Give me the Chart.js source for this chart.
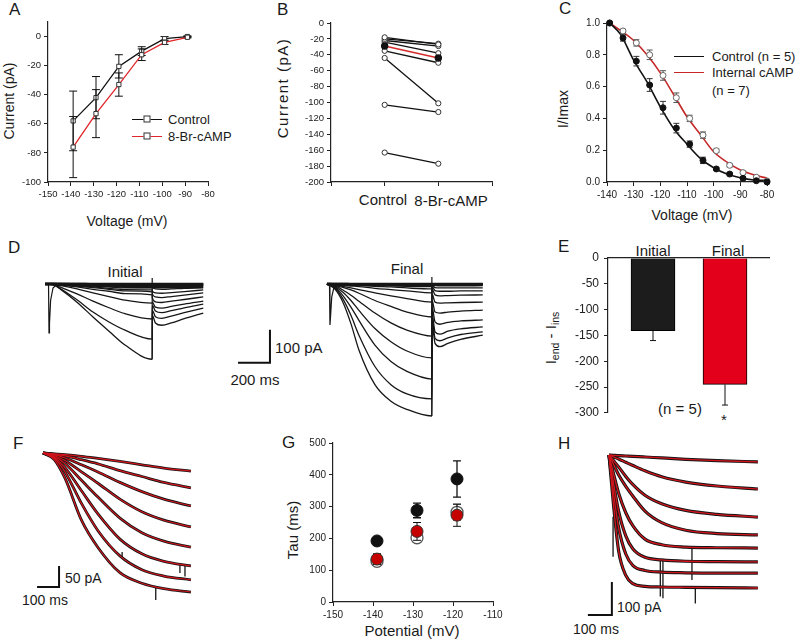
<!doctype html>
<html lang="en">
<head>
<meta charset="utf-8">
<title>HCN current figure</title>
<script src="https://cdn.jsdelivr.net/npm/chart.js@4.4.1/dist/chart.umd.min.js"></script>
<style>
    html, body { margin: 0; padding: 0; background: #fff; }
    #fig { position: relative; width: 798px; height: 639px; overflow: hidden;
           font-family: "Liberation Sans", Arial, sans-serif; color: #1a1a1a; }
    #fig canvas { position: absolute; }
    .t { position: absolute; white-space: nowrap; line-height: 1; }
    .c { transform: translate(-50%, -50%); }
    .l { transform: translate(0, -50%); }
    .r { transform: translate(-50%, -50%) rotate(-90deg); }
    .panel { font-size: 17px; }
    .ttl { font-size: 14px; }
    .big { font-size: 15px; }
    .leg { font-size: 13px; }
    .legline { position: absolute; height: 0; width: 30px; }
    .legmark { position: absolute; width: 5px; height: 5px; border: 1px solid #333; background: #fff;
               transform: translate(-50%, -50%); }
    sub { font-size: 70%; vertical-align: -3px; }
</style>
</head>
<body>
<div id="fig">
    <div class="t panel" style="left:9px;top:1px">A</div>
    <div class="t panel" style="left:277px;top:1px">B</div>
    <div class="t panel" style="left:559px;top:0px">C</div>
    <div class="t panel" style="left:8px;top:239px">D</div>
    <div class="t panel" style="left:558px;top:238px">E</div>
    <div class="t panel" style="left:13px;top:435px">F</div>
    <div class="t panel" style="left:282px;top:434px">G</div>
    <div class="t panel" style="left:558px;top:435px">H</div>

    <!-- axis titles -->
    <div class="t ttl r" style="left:9px;top:101px">Current (pA)</div>
    <div class="t ttl c" style="left:127px;top:221px">Voltage (mV)</div>
    <div class="t big r" style="left:282px;top:88px;letter-spacing:1.5px">Current (pA)</div>
    <div class="t big c" style="left:383px;top:199px">Control</div>
    <div class="t big c" style="left:451px;top:200px">8-Br-cAMP</div>
    <div class="t ttl r" style="left:563px;top:109px">I/Imax</div>
    <div class="t ttl c" style="left:692px;top:215px">Voltage (mV)</div>
    <div class="t big r" style="left:552px;top:338px">I<sub>end</sub> - I<sub>ins</sub></div>
    <div class="t big r" style="left:292px;top:530px">Tau (ms)</div>
    <div class="t big c" style="left:412px;top:630px">Potential (mV)</div>

    <!-- legend A -->
    <div class="legline" style="left:132px;top:119px;border-top:1.3px solid #111"></div>
    <div class="legmark" style="left:147px;top:119px"></div>
    <div class="legline" style="left:132px;top:136px;border-top:1.3px solid #e0262b"></div>
    <div class="legmark" style="left:147px;top:136px"></div>
    <div class="t leg l" style="left:168px;top:119px">Control</div>
    <div class="t leg l" style="left:168px;top:136px">8-Br-cAMP</div>

    <!-- legend C -->
    <div class="legline" style="left:674px;top:56px;border-top:1.5px solid #111"></div>
    <div class="legline" style="left:674px;top:72px;border-top:1.5px solid #c62828"></div>
    <div class="t leg l" style="left:712px;top:56px">Control (n = 5)</div>
    <div class="t leg l" style="left:712px;top:72px">Internal cAMP</div>
    <div class="t leg l" style="left:712px;top:90px">(n = 7)</div>

    <!-- D labels -->
    <div class="t big c" style="left:125px;top:271px">Initial</div>
    <div class="t big c" style="left:407px;top:268px">Final</div>
    <div class="t big l" style="left:275px;top:347px">100 pA</div>
    <div class="t big c" style="left:255px;top:379px">200 ms</div>

    <!-- E labels -->
    <div class="t big c" style="left:653px;top:250px">Initial</div>
    <div class="t big c" style="left:728px;top:250px">Final</div>
    <div class="t big c" style="left:680px;top:408px">(n = 5)</div>
    <div class="t big c" style="left:724px;top:419px">*</div>

    <!-- F / H scale bar labels -->
    <div class="t ttl l" style="left:65px;top:578px">50 pA</div>
    <div class="t ttl l" style="left:22px;top:600px">100 ms</div>
    <div class="t ttl l" style="left:617px;top:607px">100 pA</div>
    <div class="t ttl l" style="left:573px;top:629px">100 ms</div>
</div>
<script>
    // ---- Panel A: I-V, control vs 8-Br-cAMP
    const aVoltage = [-139, -129, -119, -109, -99, -89];
    const aControl = [-58, -42, -20.5, -10, -1.5, 0];
    const aControlErr = [20.5, 14.5, 8, 3, 1.5, 0.5];
    const aCamp = [-76, -53, -33, -12.5, -4, -0.5];
    const aCampErr = [21, 16.5, 8, 4, 1.5, 0.5];

    // ---- Panel B: paired cells
    const bControl = [-18, -20, -22, -24, -35, -44, -103, -163];
    const bCamp = [-27, -26, -29, -38, -50, -101, -112, -177];
    const bMean = [-29, -44];

    // ---- Panel C: activation curves
    const cVoltage = [-139, -134, -129, -124, -119, -114, -109, -104, -99, -94, -89, -84, -80];
    const cControl = [1.0, 0.906, 0.76, 0.61, 0.467, 0.339, 0.238, 0.136, 0.082, 0.05, 0.023, 0.008, 0.0];
    const cControlErr = [0, 0.02, 0.03, 0.04, 0.04, 0.03, 0.02, 0.02, 0.01, 0.01, 0.01, 0, 0];
    const cCamp = [1.0, 0.95, 0.875, 0.80, 0.67, 0.53, 0.40, 0.295, 0.197, 0.105, 0.059, 0.03, 0.006];
    const cCampErr = [0, 0.01, 0.02, 0.03, 0.03, 0.03, 0.02, 0.02, 0.01, 0.01, 0.01, 0.005, 0];
    const cFitVoltage = [-139, -135, -130, -125, -120, -115, -110, -105, -100, -95, -90, -85, -80];
    const cFitControl = [1.0, 0.93, 0.766, 0.63, 0.473, 0.337, 0.238, 0.149, 0.09, 0.05, 0.027, 0.013, 0.01];
    const cFitCamp = [1.0, 0.954, 0.89, 0.80, 0.686, 0.55, 0.41, 0.30, 0.19, 0.125, 0.075, 0.045, 0.024];

    // ---- Panel E: Iend - Iins
    const eValues = [-141, -245];
    const eErr = [19, 40];

    // ---- Panel G: tau vs potential
    const gVoltage = [-139, -129, -119];
    const gBlack = [192, 288, 387];
    const gBlackErr = [6, 23, 57];
    const gRed = [135, 222, 273];
    const gRedErr = [17, 28, 35];
    const gOpen = [128, 202, 282];
    const gOpenErr = [12, 12, 25];

    // ---- Panel D: current traces (ms, pA)
    const dInitTime = [0, 50, 100, 200, 300, 400, 500, 670];
    const dInitial = [
        [0, -2, -17, -55, -100, -143, -185, -228],
        [0, -2, -15, -48, -85, -115, -140, -167],
        [0, -2, -10, -30, -52, -72, -90, -106],
        [0, -1, -5, -15, -27, -38, -49, -58],
        [0, -1, -3, -9, -16, -22, -29, -33],
        [0, -1, -2, -6, -11, -16, -21, -24],
        [0, -1, -2, -5, -9, -13, -17, -18],
        [0, 0, -1, -3, -6, -9, -12, -12],
        [0, 0, -1, -2, -4, -6, -8, -9],
        [0, 0, 0, -1, -2, -3, -4, -5],
        [0, 0, 0, 0, -1, -1, -2, -2],
        [0, 0, 0, 0, 0, 0, 0, 0]
    ];
    const dTailTime = [1, 20, 60, 120, 200, 319];
    const dInitialTail = [
        [-95, -118, -125, -118, -105, -88],
        [-80, -99, -104, -97, -87, -73],
        [-65, -82, -87, -81, -72, -61],
        [-55, -70, -73, -68, -61, -52],
        [-42, -54, -56, -52, -47, -39],
        [-30, -39, -41, -38, -34, -27],
        [-21, -27, -28, -26, -23, -18],
        [-12, -15, -16, -15, -13, -12],
        [-8, -10, -10, -10, -9, -8],
        [-3, -4, -4, -4, -4, -3],
        [-1, -2, -2, -2, -2, -1],
        [0, 0, 0, 0, 0, 0]
    ];
    const dFinTime = [0, 50, 100, 150, 200, 300, 400, 500, 656];
    const dFinal = [
        [0, -15, -55, -120, -200, -305, -355, -380, -400],
        [0, -12, -45, -95, -155, -250, -305, -333, -348],
        [0, -10, -35, -70, -110, -185, -235, -265, -288],
        [0, -8, -25, -50, -80, -135, -175, -203, -224],
        [0, -6, -18, -34, -52, -88, -118, -140, -158],
        [0, -4, -10, -18, -28, -50, -68, -85, -100],
        [0, -3, -7, -12, -17, -27, -36, -44, -55],
        [0, -2, -4, -6, -8, -13, -17, -21, -27],
        [0, -1, -2, -3, -4, -7, -9, -12, -15],
        [0, -1, -1, -2, -2, -3, -4, -5, -6],
        [0, 0, 0, -1, -1, -1, -2, -2, -2],
        [0, 0, 0, 0, 0, 0, 0, 0, 0]
    ];
    const dFinTailTime = [1, 20, 50, 100, 180, 318];
    const dFinalTail = [
        [-120, -180, -190, -180, -168, -155],
        [-105, -165, -172, -163, -153, -145],
        [-90, -145, -152, -143, -136, -130],
        [-70, -115, -122, -116, -112, -109],
        [-50, -85, -88, -85, -82, -79],
        [-30, -55, -58, -57, -56, -55],
        [-15, -33, -36, -35, -34, -33],
        [-8, -20, -22, -22, -21, -21],
        [-4, -11, -12, -12, -12, -12],
        [-2, -3, -4, -4, -4, -3],
        [-1, -1, -2, -2, -2, -1],
        [0, 0, 0, 0, 0, 0]
    ];
    // capacitive transients
    const dInitTransT = [22, 25, 28, 35, 50, 70];
    const dInitTransI = [0, -148, -120, -50, -12, -3];
    const dFinTransT = [16, 19, 23, 30, 43, 68];
    const dFinTransI = [0, -124, -95, -40, -12, -3];
    const dFinalStart = 1762;

    // ---- Panel F: fitted traces
    const fTime = [0, 50, 100, 175, 250, 350, 450, 550, 673];
    const fTraces = [
        [0, -2, -4, -8, -13, -20, -28, -36, -43],
        [0, -3, -7, -16, -26, -42, -56, -70, -83],
        [0, -4, -12, -28, -45, -70, -92, -110, -126],
        [0, -6, -18, -45, -72, -110, -140, -160, -176],
        [0, -8, -25, -65, -105, -155, -190, -210, -224],
        [0, -10, -35, -90, -145, -205, -240, -258, -269],
        [0, -12, -45, -120, -185, -245, -278, -293, -302],
        [0, -15, -60, -160, -225, -285, -310, -323, -331]
    ];
    const fSpikes = [[513, -318, -350], [623, -262, -286], [646, -266, -294], [360, -236, -250]];

    // ---- Panel H: fitted traces
    const hTime = [0, 20, 40, 70, 100, 150, 220, 320, 450, 621];
    const hTraces = [
        [0, -1, -2, -3, -4, -6, -9, -13, -17, -21],
        [0, -6, -12, -22, -32, -48, -66, -82, -94, -103],
        [0, -18, -36, -65, -90, -122, -148, -168, -180, -188],
        [0, -30, -60, -95, -125, -170, -205, -228, -238, -242],
        [0, -60, -115, -175, -215, -255, -272, -279, -281, -282],
        [0, -90, -170, -245, -285, -310, -318, -322, -323, -324],
        [0, -120, -220, -300, -335, -350, -355, -357, -358, -358],
        [0, -160, -290, -365, -390, -398, -400, -401, -402, -403]
    ];
    const hSpikes = [[17, -187, -308], [214, -318, -429], [225, -318, -434], [346, -278, -379], [360, -399, -450]];

    // scale bars: [time start, time end, current low, current high]
    const dBar = [1206, 1406, -239, -139];
    const fBar = [-27, 73, -319, -269];
    const hBar = [-88, 12, -485, -385];

    // ------------------------------------------------------------------
    Chart.defaults.font.family = '"Liberation Sans", Arial, sans-serif';
    Chart.defaults.color = '#222';

    const errorBars = {
        id: 'errorBars',
        beforeDatasetDraw(chart, args) {
            const ds = chart.data.datasets[args.index];
            if (!ds.errors) return;
            const ctx = chart.ctx;
            const yScale = chart.scales[args.meta.yAxisID];
            const cap = ds.capWidth || 3;
            ctx.save();
            ctx.strokeStyle = ds.errColor || '#111';
            ctx.lineWidth = ds.errWidth || 1;
            args.meta.data.forEach((el, i) => {
                const e = ds.errors[i];
                if (!e) return;
                const v = ds.data[i].y;
                const yTop = yScale.getPixelForValue(ds.errDown ? v : v + e);
                const yBot = yScale.getPixelForValue(v - e);
                ctx.beginPath();
                ctx.moveTo(el.x, yTop);
                ctx.lineTo(el.x, yBot);
                if (!ds.errDown) {
                    ctx.moveTo(el.x - cap, yTop);
                    ctx.lineTo(el.x + cap, yTop);
                }
                ctx.moveTo(el.x - cap, yBot);
                ctx.lineTo(el.x + cap, yBot);
                ctx.stroke();
            });
            ctx.restore();
        }
    };

    function addChart(left, top, w, h, config) {
        const cv = document.createElement('canvas');
        cv.width = w;
        cv.height = h;
        cv.style.left = left + 'px';
        cv.style.top = top + 'px';
        cv.style.width = w + 'px';
        cv.style.height = h + 'px';
        document.getElementById('fig').appendChild(cv);
        config.options = Object.assign({
            responsive: false, animation: false, devicePixelRatio: 1,
            events: []
        }, config.options);
        config.options.plugins = { legend: { display: false }, tooltip: { enabled: false } };
        config.plugins = [errorBars];
        return new Chart(cv, config);
    }

    function axis(min, max, step, fontSize, fit, extra) {
        return Object.assign({
            type: 'linear', min: min, max: max,
            grid: { drawOnChartArea: false, drawTicks: true, tickLength: 4, color: '#222' },
            border: { display: true, color: '#222', width: 1.2 },
            ticks: { stepSize: step, autoSkip: false, maxRotation: 0, padding: 3,
                     font: { size: fontSize }, color: '#222' },
            afterFit: fit
        }, extra || {});
    }

    const pts = (xs, ys) => xs.map((x, i) => ({ x: x, y: ys[i] }));

    function markers(data, opts) {
        return Object.assign({ data: data, showLine: false, clip: false, pointRadius: 3,
            pointBorderWidth: 1, borderWidth: 0 }, opts);
    }

    function line(data, color, width, smooth) {
        const ds = { data: data, borderColor: color, borderWidth: width, pointRadius: 0, fill: false, clip: false };
        if (smooth) ds.cubicInterpolationMode = 'monotone';
        return ds;
    }

    function barLines(b) {
        return line([{ x: b[0], y: b[2] }, { x: b[1], y: b[2] }, { x: b[1], y: b[3] }], '#111', 2, false);
    }

    // ---- A
    addChart(0, 0, 230, 215, {
        type: 'line',
        data: {
            datasets: [
                Object.assign(line(pts(aVoltage, aCamp), '#e0262b', 1.3), {
                    pointStyle: 'rect', pointRadius: 3, pointBackgroundColor: '#fff',
                    pointBorderColor: '#333', pointBorderWidth: 1, errors: aCampErr, capWidth: 4
                }),
                Object.assign(line(pts(aVoltage, aControl), '#111', 1.3), {
                    pointStyle: 'rect', pointRadius: 3, pointBackgroundColor: '#fff',
                    pointBorderColor: '#333', pointBorderWidth: 1, errors: aControlErr, capWidth: 4
                })
            ]
        },
        options: {
            layout: { autoPadding: false, padding: { top: 22, right: 22, left: 0, bottom: 0 } },
            scales: {
                x: axis(-150, -80, 10, 9.5, s => { s.height = 33; }, {}),
                y: axis(-100, 10, 20, 9.5, s => { s.width = 48; }, {
                    afterBuildTicks: s => { s.ticks = s.ticks.filter(t => t.value <= 0); }
                })
            }
        }
    });

    // ---- B
    const bDatasets = [Object.assign(line([{ x: 1, y: bMean[0] }, { x: 2, y: bMean[1] }], '#d42a2a', 1.4), {
        pointRadius: 3, pointBackgroundColor: '#111', pointBorderColor: '#111'
    })];
    bControl.forEach((v, i) => {
        bDatasets.push(Object.assign(line([{ x: 1, y: v }, { x: 2, y: bCamp[i] }], '#111', 1.3), {
            pointRadius: 2.6, pointBackgroundColor: '#fff', pointBorderColor: '#333', pointBorderWidth: 1
        }));
    });
    addChart(270, 0, 240, 215, {
        type: 'line',
        data: { datasets: bDatasets },
        options: {
            layout: { autoPadding: false, padding: { top: 23, right: 18, left: 0, bottom: 0 } },
            scales: {
                x: axis(0, 3, 1, 14, s => { s.height = 33; }, {
                    ticks: { stepSize: 1, autoSkip: false, maxRotation: 0, display: true,
                             font: { size: 14 }, color: '#222', callback: () => '' }
                }),
                y: axis(-200, 0, 20, 9.5, s => { s.width = 61; }, {})
            }
        }
    });

    // ---- C
    addChart(530, 0, 268, 215, {
        type: 'line',
        data: {
            datasets: [
                markers(pts(cVoltage, cControl), { pointBackgroundColor: '#111', pointBorderColor: '#111',
                    errors: cControlErr, errColor: '#333', capWidth: 3 }),
                markers(pts(cVoltage, cCamp), { pointBackgroundColor: '#fff', pointBorderColor: '#666',
                    errors: cCampErr, errColor: '#555', capWidth: 3 }),
                line(pts(cFitVoltage, cFitControl), '#111', 1.6, true),
                line(pts(cFitVoltage, cFitCamp), '#c62828', 1.6, true)
            ]
        },
        options: {
            layout: { autoPadding: false, padding: { top: 23, right: 31, left: 0, bottom: 0 } },
            scales: {
                x: axis(-140, -80, 10, 10, s => { s.height = 33; }, {}),
                y: axis(0, 1, 0.2, 10, s => { s.width = 77; }, {
                    ticks: { stepSize: 0.2, autoSkip: false, padding: 3, font: { size: 10 }, color: '#222',
                             callback: v => v.toFixed(1) }
                })
            }
        }
    });

    // ---- E
    addChart(530, 220, 268, 205, {
        type: 'bar',
        data: {
            datasets: [{
                data: pts([0, 1], eValues),
                backgroundColor: ['#1c1c1c', '#e2001a'],
                borderColor: '#000', borderWidth: 1, barThickness: 44,
                errors: eErr, errDown: true, capWidth: 3
            }]
        },
        options: {
            layout: { autoPadding: false, padding: { top: 38, right: 29, left: 0, bottom: 8 } },
            scales: {
                x: {
                    type: 'linear', position: 'top', min: -0.625, max: 1.611, offset: false,
                    ticks: { display: false }, grid: { display: false, offset: false },
                    border: { display: true, color: '#222', width: 1.2 },
                    afterFit: s => { s.height = 0; }
                },
                y: axis(-300, 0, 50, 12, s => { s.width = 78; }, {
                    ticks: { stepSize: 50, autoSkip: false, padding: 5, font: { size: 12 }, color: '#222' }
                })
            }
        }
    });

    // ---- G
    addChart(270, 425, 250, 214, {
        type: 'line',
        data: {
            datasets: [
                markers(pts(gVoltage, gRed), { pointRadius: 6, pointBackgroundColor: '#c40000',
                    pointBorderColor: '#333', errors: gRedErr, capWidth: 4 }),
                markers(pts(gVoltage, gOpen), { pointRadius: 6, pointBackgroundColor: '#fff',
                    pointBorderColor: '#555', pointBorderWidth: 1.3, errors: gOpenErr, errColor: '#555', capWidth: 4 }),
                markers(pts(gVoltage, gBlack), { pointRadius: 6, pointBackgroundColor: '#111',
                    pointBorderColor: '#111', errors: gBlackErr, capWidth: 4, errWidth: 1.3 })
            ]
        },
        options: {
            layout: { autoPadding: false, padding: { top: 18, right: 27, left: 0, bottom: 0 } },
            scales: {
                x: axis(-150, -110, 10, 10, s => { s.height = 37; }, {}),
                y: axis(0, 500, 100, 10, s => { s.width = 63; }, {})
            }
        }
    });

    // ---- trace panels (hidden axes)
    function traceOptions(xmin, xmax, ymin, ymax) {
        return {
            layout: { autoPadding: false, padding: 0 },
            scales: {
                x: { type: 'linear', display: false, min: xmin, max: xmax },
                y: { type: 'linear', display: false, min: ymin, max: ymax }
            }
        };
    }

    // D
    const dDatasets = [barLines(dBar)];
    const dStepEnd = dInitTime[dInitTime.length - 1];
    const dFinStepEnd = dFinalStart + dFinTime[dFinTime.length - 1];
    dInitial.forEach((tr, k) => {
        const p = pts(dInitTime, tr).concat(pts(dTailTime.map(t => dStepEnd + t), dInitialTail[k]));
        dDatasets.push(line(p, '#161616', k > 7 ? 2.6 : 1.3, true));
    });
    dFinal.forEach((tr, k) => {
        const p = pts(dFinTime.map(t => dFinalStart + t), tr)
            .concat(pts(dFinTailTime.map(t => dFinStepEnd + t), dFinalTail[k]));
        dDatasets.push(line(p, '#161616', k > 8 ? 2.6 : 1.3, true));
    });
    dDatasets.push(line(pts(dInitTransT, dInitTransI), '#161616', 1.2, false));
    dDatasets.push(line(pts(dFinTransT.map(t => dFinalStart + t), dFinTransI), '#161616', 1.2, false));
    dDatasets.push(line([{ x: dStepEnd, y: 18 }, { x: dStepEnd, y: -228 }], '#161616', 1.2, false));
    dDatasets.push(line([{ x: dFinStepEnd, y: 21 }, { x: dFinStepEnd, y: -400 }], '#161616', 1.2, false));
    addChart(40, 265, 470, 160, {
        type: 'line',
        data: { datasets: dDatasets },
        options: traceOptions(-31.25, 2906.25, -427.27, 57.58)
    });

    // F
    const fDatasets = [barLines(fBar)];
    fTraces.forEach(tr => fDatasets.push(line(pts(fTime, tr), '#d0141c', 1.2, true)));
    fTraces.forEach(tr => fDatasets.push(line(pts(fTime, tr), '#161616', 2.8, true)));
    fSpikes.forEach(s => fDatasets.push(line([{ x: s[0], y: s[1] }, { x: s[0], y: s[2] }], '#161616', 1.3, false)));
    addChart(0, 440, 200, 170, {
        type: 'line',
        data: { datasets: fDatasets },
        options: traceOptions(-195.65, 714.35, -373.8, 30.95)
    });

    // H
    const hDatasets = [barLines(hBar)];
    hTraces.forEach(tr => hDatasets.push(line(pts(hTime, tr), '#d0141c', 1.3, true)));
    hTraces.forEach(tr => hDatasets.push(line(pts(hTime, tr), '#161616', 3.2, true)));
    hSpikes.forEach(s => hDatasets.push(line([{ x: s[0], y: s[1] }, { x: s[0], y: s[2] }], '#161616', 1.3, false)));
    addChart(560, 440, 238, 199, {
        type: 'line',
        data: { datasets: hDatasets },
        options: traceOptions(-204.3, 788.2, -557.6, 45.45)
    });
</script>
</body>
</html>
